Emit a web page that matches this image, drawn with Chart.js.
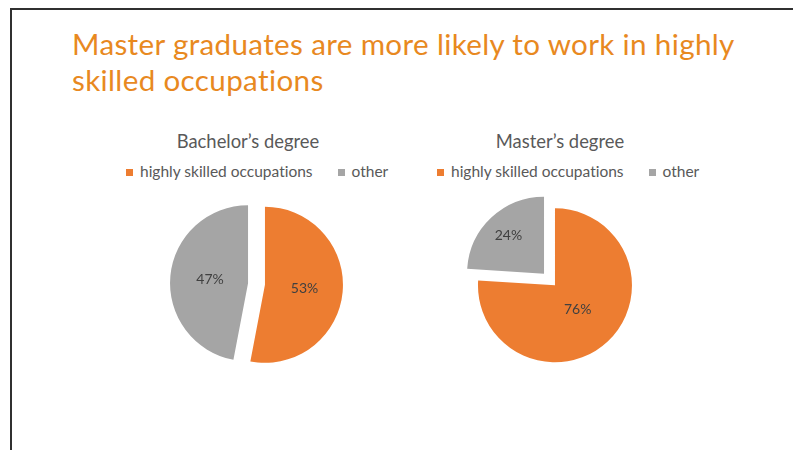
<!DOCTYPE html>
<html>
<head>
<meta charset="utf-8">
<script src="https://cdn.jsdelivr.net/npm/chart.js@4.4.1/dist/chart.umd.min.js"></script>
<style>
  html, body { margin: 0; padding: 0; background: #fff; }
  body { width: 793px; height: 450px; position: relative; overflow: hidden;
         font-family: Lato, "Open Sans", sans-serif; font-variant-ligatures: none; }
  .frame { position: absolute; left: 10px; top: 8px; right: -20px; bottom: -20px;
           border-left: 2px solid #303030; border-top: 2px solid #303030; }
  h1 { position: absolute; left: 72px; top: 26px; margin: 0; font-weight: 400; font-size: 29.6px;
       letter-spacing: 0.35px; line-height: 36px; color: #E8891F; white-space: nowrap; }
  .heading { position: absolute; top: 130px; font-size: 18.4px; line-height: 22px; color: #595959;
             transform: translateX(-50%); white-space: nowrap; }
  .legend { position: absolute; top: 162px; display: flex; align-items: center; font-size: 15.5px;
            line-height: 18px; color: #595959; white-space: nowrap; }
  .legend .item { display: flex; align-items: center; }
  .legend .item + .item { margin-left: 25px; }
  .legend .box { width: 7px; height: 7px; margin-right: 7px; position: relative; top: 1px; }
  canvas { position: absolute; }
</style>
</head>
<body>
<div class="frame"></div>
<h1>Master graduates are more likely to work in highly<br>skilled occupations</h1>

<div class="heading" id="head1" style="left:248px"></div>
<div class="legend" id="legend1" style="left:126px"></div>
<canvas id="pie1" width="199" height="200" style="left:157px;top:184px"></canvas>

<div class="heading" id="head2" style="left:560px"></div>
<div class="legend" id="legend2" style="left:437px"></div>
<canvas id="pie2" width="199" height="199" style="left:450px;top:180px"></canvas>

<script>
// Categories and shares (%) for each degree
const categories = ['highly skilled occupations', 'other'];
const bachelorTitle = 'Bachelor\u2019s degree';
const masterTitle = 'Master\u2019s degree';
const bachelorValues = [53, 47];
const masterValues = [76, 24];

const sliceColors = ['#ED7D31', '#A5A5A5'];

// Pulls every slice outwards along its bisector (exploded pie)
const explodePlugin = {
  id: 'explode',
  beforeDatasetDraw(chart, args, opts) {
    const ctx = chart.ctx;
    args.meta.data.forEach(arc => {
      const mid = (arc.startAngle + arc.endAngle) / 2;
      ctx.save();
      ctx.translate(Math.cos(mid) * opts.distance, Math.sin(mid) * opts.distance);
      arc.draw(ctx, chart.chartArea);
      ctx.restore();
    });
    return false;
  }
};

// Writes the percentage inside each slice
const sliceLabelPlugin = {
  id: 'sliceLabels',
  afterDatasetsDraw(chart, args, opts) {
    const ctx = chart.ctx;
    const meta = chart.getDatasetMeta(0);
    const values = chart.data.datasets[0].data;
    const shift = chart.options.plugins.explode.distance;
    ctx.save();
    ctx.font = opts.font;
    ctx.fillStyle = opts.color;
    ctx.textAlign = 'center';
    ctx.textBaseline = 'middle';
    meta.data.forEach((arc, i) => {
      const mid = (arc.startAngle + arc.endAngle) / 2;
      const d = shift + arc.outerRadius * opts.radii[i];
      ctx.fillText(values[i] + '%', arc.x + Math.cos(mid) * d, arc.y + Math.sin(mid) * d);
    });
    ctx.restore();
  }
};

function makePie(canvasId, values, radius, explode, labelRadii) {
  return new Chart(document.getElementById(canvasId), {
    type: 'pie',
    data: {
      labels: categories,
      datasets: [{
        data: values,
        backgroundColor: sliceColors,
        borderWidth: 0
      }]
    },
    options: {
      responsive: false,
      animation: false,
      radius: radius,
      layout: { padding: 0 },
      plugins: {
        legend: { display: false },
        tooltip: { enabled: false },
        explode: { distance: explode },
        sliceLabels: { font: '14px Lato, "Open Sans", sans-serif', color: '#404040', radii: labelRadii }
      }
    },
    plugins: [explodePlugin, sliceLabelPlugin]
  });
}

// Heading and legend rows built from the chart's own legend items
function buildLegend(chart, headId, headText, legendId) {
  document.getElementById(headId).textContent = headText;
  const box = document.getElementById(legendId);
  const items = chart.options.plugins.legend.labels.generateLabels(chart);
  items.forEach(it => {
    const item = document.createElement('div');
    item.className = 'item';
    const sw = document.createElement('span');
    sw.className = 'box';
    sw.style.background = it.fillStyle;
    const tx = document.createElement('span');
    tx.textContent = it.text;
    item.appendChild(sw);
    item.appendChild(tx);
    box.appendChild(item);
  });
}

const bachelorChart = makePie('pie1', bachelorValues, 78, 8.5, [0.51, 0.49]);
const masterChart = makePie('pie2', masterValues, 77, 8, [0.43, 0.675]);
buildLegend(bachelorChart, 'head1', bachelorTitle, 'legend1');
buildLegend(masterChart, 'head2', masterTitle, 'legend2');
</script>
</body>
</html>
